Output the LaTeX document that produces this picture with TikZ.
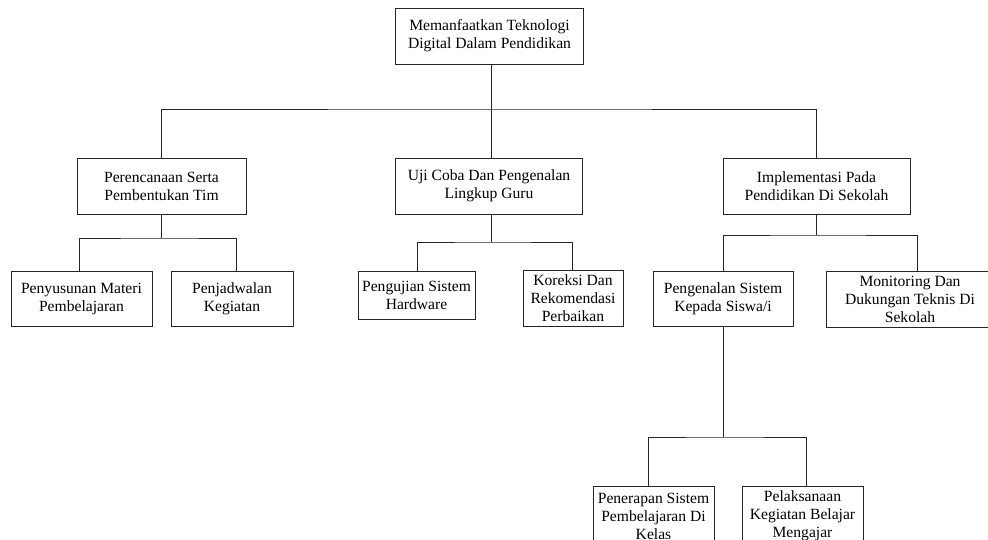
\documentclass[tikz,border=0pt]{standalone}
\usepackage{fontspec}
\setmainfont{Liberation Serif}
\begin{document}
\begin{tikzpicture}[x=1pt,y=-1pt,
  box/.style={draw=black!85,line width=0.8pt,rectangle,align=center,inner sep=0pt,
    font=\fontsize{15.6}{18}\selectfont},
  conn/.style={draw=black!85,line width=0.8pt}]
\clip (0,0) rectangle (988,540);
\fill[white] (0,0) rectangle (988,540);
% nodes
\node[box,minimum width=188pt,minimum height=56pt] (top) at (489.5,36) {Memanfaatkan Teknologi\\Digital Dalam Pendidikan};
\node[box,minimum width=169pt,minimum height=56pt] (pr) at (161.5,186) {Perencanaan Serta\\Pembentukan Tim};
\node[box,minimum width=187pt,minimum height=56pt] (uj) at (489,186) {Uji Coba Dan Pengenalan\\Lingkup Guru};
\node[box,minimum width=187pt,minimum height=56pt] (im) at (816.5,186) {Implementasi Pada\\Pendidikan Di Sekolah};
\node[box,minimum width=141pt,minimum height=55pt] (ps) at (81.5,298.5) {Penyusunan Materi\\Pembelajaran};
\node[box,minimum width=122pt,minimum height=55pt] (pj) at (232,298.5) {Penjadwalan\\Kegiatan};
\node[box,minimum width=117pt,minimum height=48pt] (pu) at (416.5,295) {Pengujian Sistem\\Hardware};
\node[box,minimum width=100pt,minimum height=56pt] (ko) at (573,298) {Koreksi Dan\\Rekomendasi\\Perbaikan};
\node[box,minimum width=140pt,minimum height=55pt] (pe) at (723,298.5) {Pengenalan Sistem\\Kepada Siswa/i};
\node[box,minimum width=168pt,minimum height=56pt] (mo) at (910,299) {Monitoring Dan\\Dukungan Teknis Di\\Sekolah};
\node[box,minimum width=121pt,minimum height=60pt] (pn) at (653.5,516) {Penerapan Sistem\\Pembelajaran Di\\Kelas};
\node[box,minimum width=121pt,minimum height=60pt] (pl) at (802.5,516) {Pelaksanaan\\Kegiatan Belajar\\Mengajar};
% junction coordinates
\coordinate (j0) at (491,109);
\coordinate (j1) at (161,238);
\coordinate (j2) at (491,242);
\coordinate (j3) at (816,235);
\coordinate (j4) at (723,437);
% connectors
\draw[conn] (top.south -| j0) -- (j0);
\draw[conn] (pr.north -| j1) |- (j0) -| (im.north -| j3);
\draw[conn] (j0) -- (uj.north -| j0);
\draw[conn] (pr.south -| j1) -- (j1);
\draw[conn] ([xshift=-2.5pt]ps.north) |- (j1) -| ([xshift=4pt]pj.north);
\draw[conn] (uj.south -| j2) -- (j2);
\draw[conn] ([xshift=0.5pt]pu.north) |- (j2) -| ([xshift=-1pt]ko.north);
\draw[conn] (im.south -| j3) -- (j3);
\draw[conn] (pe.north) |- (j3) -| ([xshift=7pt]mo.north);
\draw[conn] (pe.south) -- (j4);
\draw[conn] ([xshift=-5.5pt]pn.north) |- (j4) -| ([xshift=3.5pt]pl.north);
\end{tikzpicture}
\end{document}
